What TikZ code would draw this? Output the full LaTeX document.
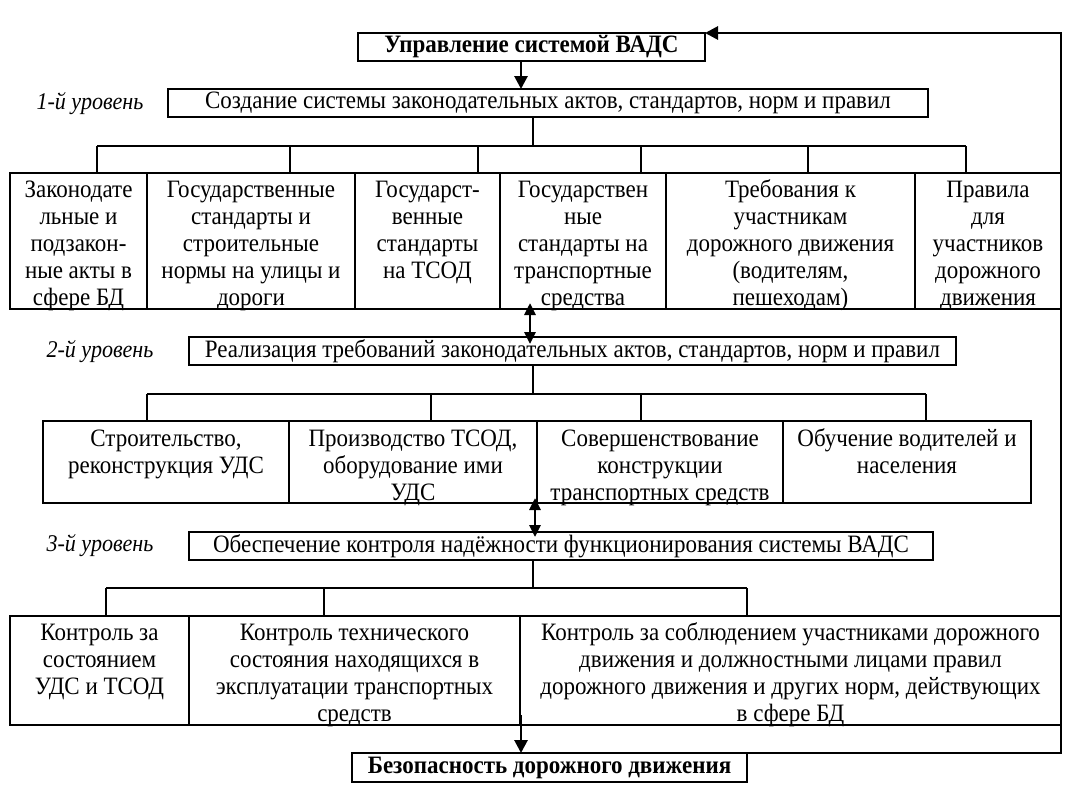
\documentclass[tikz,border=0pt]{standalone}
\usepackage{fontspec}
\setmainfont{Liberation Serif}[FakeStretch=0.92]
\usetikzlibrary{arrows.meta}
\newcommand{\firstln}{\rule{0pt}{20pt}}
\begin{document}
\begin{tikzpicture}[x=1pt,y=-1pt,line width=1.8pt,
  box/.style={draw,line width=1.8pt,inner sep=0pt,outer sep=0pt,anchor=north west},
  txt/.style={anchor=north,align=center,inner sep=0pt,font=\fontsize{25}{27}\selectfont},
  ctxt/.style={align=center,inner sep=0pt,font=\fontsize{25}{27}\selectfont},
  lvl/.style={inner sep=0pt,font=\fontsize{24}{26}\selectfont\itshape},
  arr/.style={line width=2.8pt,-{Triangle[length=13pt,width=13pt]}},
  darr/.style={line width=2.8pt,{Triangle[length=12pt,width=11pt]}-{Triangle[length=12pt,width=11pt]}},
  thin/.style={line width=1.8pt}]
\useasboundingbox (0,0) rectangle (1080,796);
\fill[white] (0,0) rectangle (1080,796);

% top box
\node[box,minimum width=347pt,minimum height=28pt] (top) at (358,33) {};
\node[ctxt,font=\fontsize{25}{27}\selectfont\bfseries] (ttop) at (top.center) {Управление системой ВАДС};

% level 1
\node[lvl] (lab1) at (90,104) {1-й уровень};
\node[box,minimum width=760pt,minimum height=28pt] (l1) at (168,89) {};
\node[ctxt] (tl1) at (l1.center) {Создание системы законодательных актов, стандартов, норм и правил};

% row 1
\node[box,minimum width=137pt,minimum height=136pt] (r11) at (10,173) {};
\node[box,minimum width=208pt,minimum height=136pt] (r12) at (147,173) {};
\node[box,minimum width=145pt,minimum height=136pt] (r13) at (355,173) {};
\node[box,minimum width=166pt,minimum height=136pt] (r14) at (500,173) {};
\node[box,minimum width=249pt,minimum height=136pt] (r15) at (666,173) {};
\node[box,minimum width=146pt,minimum height=136pt] (r16) at (915,173) {};
\node[txt] (t11) at ([yshift=-4pt]r11.north) {\firstln Законодате\\льные и\\подзакон-\\ные акты в\\сфере БД};
\node[txt] (t12) at ([yshift=-4pt]r12.north) {\firstln Государственные\\стандарты и\\строительные\\нормы на улицы и\\дороги};
\node[txt] (t13) at ([yshift=-4pt]r13.north) {\firstln Государст-\\венные\\стандарты\\на ТСОД};
\node[txt] (t14) at ([yshift=-4pt]r14.north) {\firstln Государствен\\ные\\стандарты на\\транспортные\\средства};
\node[txt] (t15) at ([yshift=-4pt]r15.north) {\firstln Требования к\\участникам\\дорожного движения\\(водителям,\\пешеходам)};
\node[txt] (t16) at ([yshift=-4pt]r16.north) {\firstln Правила\\для\\участников\\дорожного\\движения};

% level 2
\node[lvl] (lab2) at (100,352) {2-й уровень};
\node[box,minimum width=767pt,minimum height=28pt] (l2) at (189,337) {};
\node[ctxt] (tl2) at (l2.center) {Реализация требований законодательных актов, стандартов, норм и правил};

% row 2
\node[box,minimum width=246pt,minimum height=82pt] (r21) at (43,421) {};
\node[box,minimum width=248pt,minimum height=82pt] (r22) at (289,421) {};
\node[box,minimum width=246pt,minimum height=82pt] (r23) at (537,421) {};
\node[box,minimum width=248pt,minimum height=82pt] (r24) at (783,421) {};
\node[txt] (t21) at ([yshift=-5pt]r21.north) {\firstln Строительство,\\реконструкция УДС};
\node[txt] (t22) at ([yshift=-5pt]r22.north) {\firstln Производство ТСОД,\\оборудование ими\\УДС};
\node[txt] (t23) at ([yshift=-5pt]r23.north) {\firstln Совершенствование\\конструкции\\транспортных средств};
\node[txt] (t24) at ([yshift=-5pt]r24.north) {\firstln Обучение водителей и\\населения};

% level 3
\node[lvl] (lab3) at (100,546) {3-й уровень};
\node[box,minimum width=744pt,minimum height=28pt] (l3) at (189,532) {};
\node[ctxt] (tl3) at (l3.center) {Обеспечение контроля надёжности функционирования системы ВАДС};

% row 3
\node[box,minimum width=179pt,minimum height=109pt] (r31) at (10,616) {};
\node[box,minimum width=331pt,minimum height=109pt] (r32) at (189,616) {};
\node[box,minimum width=541pt,minimum height=109pt] (r33) at (520,616) {};
\node[txt] (t31) at ([yshift=-4pt]r31.north) {\firstln Контроль за\\состоянием\\УДС и ТСОД};
\node[txt] (t32) at ([yshift=-4pt]r32.north) {\firstln Контроль технического\\состояния находящихся в\\эксплуатации транспортных\\средств};
\node[txt] (t33) at ([yshift=-4pt]r33.north) {\firstln Контроль за соблюдением участниками дорожного\\движения и должностными лицами правил\\дорожного движения и других норм, действующих\\в сфере БД};

% bottom box
\node[box,minimum width=395pt,minimum height=29pt] (bez) at (352,753) {};
\node[ctxt,font=\fontsize{25}{27}\selectfont\bfseries] (tbez) at (bez.center) {Безопасность дорожного движения};

% buses level 1
\draw[thin] (l1.south -| 533,0) -- (533,146);
\draw[thin] (97,146) -- (966,146);
\foreach \xx in {97,290,478,641,808,966} \draw[thin] (\xx,146) -- (\xx,0 |- r11.north);
% buses level 2
\draw[thin] (l2.south -| 533,0) -- (533,394);
\draw[thin] (147,394) -- (926,394);
\foreach \xx in {147,431,641,926} \draw[thin] (\xx,394) -- (\xx,0 |- r21.north);
% buses level 3
\draw[thin] (l3.south -| 533,0) -- (533,588);
\draw[thin] (106,588) -- (747,588);
\foreach \xx in {106,324,747} \draw[thin] (\xx,588) -- (\xx,0 |- r31.north);

% arrows
\draw[arr] (top.south -| 521,0) -- (l1.north -| 521,0);
\coordinate (d1a) at (530,303);
\coordinate (d1b) at (530,344);
\draw[darr] (d1a) -- (d1b);
\coordinate (d2a) at (535,498);
\coordinate (d2b) at (535,537);
\draw[darr] (d2a) -- (d2b);
\coordinate (a3s) at (521,715);
\draw[arr] (a3s) -- (bez.north -| 521,0);

% feedback
\coordinate (fbB) at (1061,753);
\coordinate (fbT) at (1061,33);
\coordinate (fbA) at (770,33);
\draw[thin] (bez.north east) -- (fbB) -- (fbT) -- (fbA);
\draw[arr] (fbA) -- (top.north east);
\end{tikzpicture}
\end{document}
